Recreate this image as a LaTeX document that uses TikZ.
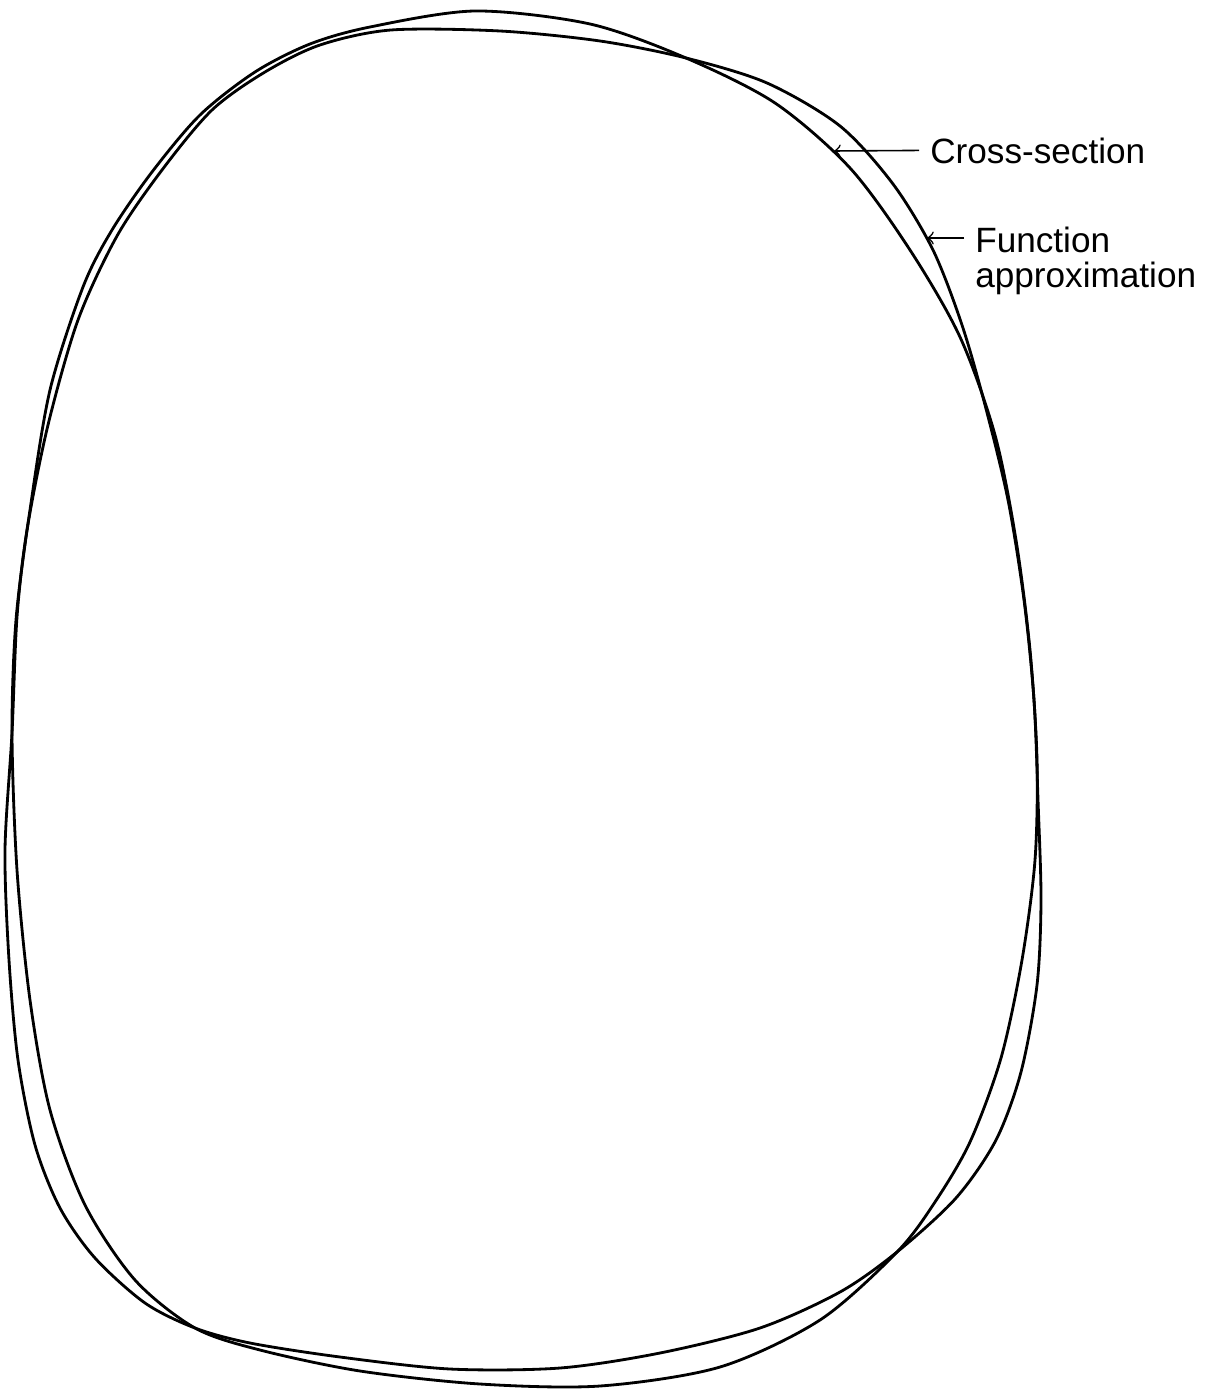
\documentclass[tikz,border=0pt]{standalone}
\usepackage{fontspec}
\setmainfont{Liberation Sans}
\begin{document}
\begin{tikzpicture}[x=0.01cm,y=-0.01cm,every node/.style={font=\fontsize{10}{10}\selectfont,inner sep=3pt}]
\useasboundingbox (0,0) rectangle (1220,1391);
% true cross-section
\draw[line width=0.8pt] plot[smooth cycle] coordinates {
 (475,11) (590,24) (686,58) (775,103) (850,168) (910,250) (960,337) (995,435)
 (1016,540) (1030,650) (1037,760) (1035,860) (1022,960) (1001,1058) (970,1142)
 (935,1202) (897,1252) (820,1320) (720,1367) (600,1386) (480,1384) (360,1371)
 (260,1350) (195,1328) (135,1280) (85,1205) (50,1110) (30,1000) (17,870)
 (12,733) (16,620) (30,510) (50,390) (83,287) (112,230) (152,172) (200,115)
 (255,72) (310,44) (370,27)};
% fitted function
\draw[line width=0.8pt] plot[smooth cycle] coordinates {
 (391,30) (500,31) (600,41) (686,58) (767,83) (840,126) (893,184) (933,250)
 (962,325) (985,405) (1008,500) (1024,600) (1034,700) (1038,800) (1041,900)
 (1037,985) (1021,1072) (996,1140) (956,1198) (897,1252) (840,1292) (760,1328)
 (660,1353) (560,1368) (450,1369) (340,1357) (250,1343) (195,1328) (145,1303)
 (95,1258) (60,1208) (35,1145) (18,1060) (9,960) (5,850) (12,733) (17,617)
 (27,530) (48,425) (78,320) (117,236) (162,170) (212,110) (265,72) (320,45)};
% labels
\coordinate (cs) at (834,151);
\coordinate (fa) at (927,238);
\node[anchor=base west] (cslbl) at (919,163) {Cross-section};
\node[anchor=north west,align=left] (falbl) at (964,216) {Function\\approximation};
\draw[->,line width=0.45pt] (cslbl.west) -- (cs);
\draw[->,line width=0.45pt] (falbl.west |- fa) -- (fa);
\end{tikzpicture}
\end{document}
